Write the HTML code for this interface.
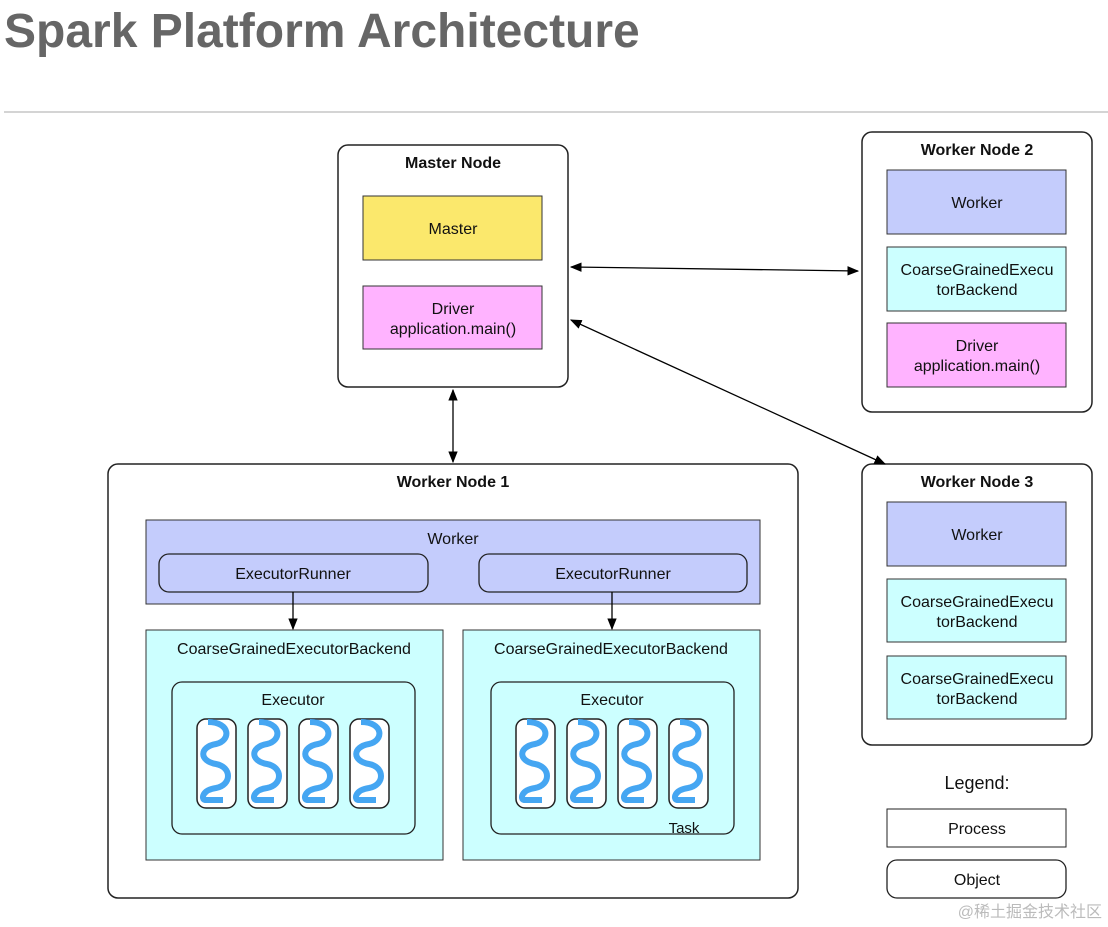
<!DOCTYPE html>
<html><head><meta charset="utf-8"><style>
html,body{margin:0;padding:0;background:#fff;}
svg{display:block;}
text{font-family:"Liberation Sans",Arial,sans-serif;fill:#111;}
</style></head><body>
<svg width="1108" height="927" viewBox="0 0 1108 927" xmlns="http://www.w3.org/2000/svg">
<defs>
<marker id="a" viewBox="0 0 10 10" refX="9" refY="5" markerWidth="9" markerHeight="9" orient="auto-start-reverse"><path d="M0,1 L10,5 L0,9 z" fill="#000"/></marker>
<g id="th">
<rect x="0" y="0" width="39" height="89" rx="9" fill="#fff" stroke="#222" stroke-width="1.5"/>
<path d="M11,3 C34,3 34,22 19,25 C2,28 2,42 19,45 C35,48 35,66 19,69 C5,71 4,80 8,81 L26,81" fill="none" stroke="#45a6f2" stroke-width="6"/>
</g>
</defs>
<text x="4" y="47" font-size="48" font-weight="bold" style="fill:#666">Spark Platform Architecture</text>
<line x1="4" y1="112" x2="1108" y2="112" stroke="#aaa" stroke-width="1"/>

<rect x="338" y="145" width="230" height="242" rx="10" fill="#fff" stroke="#222" stroke-width="1.5"/>
<text x="453" y="168" font-size="16" font-weight="bold" text-anchor="middle">Master Node</text>
<rect x="363" y="196" width="179" height="64" fill="#fbe86c" stroke="#333"/>
<text x="453" y="234" font-size="16" text-anchor="middle">Master</text>
<rect x="363" y="286" width="179" height="63" fill="#ffb3ff" stroke="#333"/>
<text x="453" y="314" font-size="16" text-anchor="middle">Driver</text>
<text x="453" y="334" font-size="16" text-anchor="middle">application.main()</text>

<rect x="862" y="132" width="230" height="280" rx="10" fill="#fff" stroke="#222" stroke-width="1.5"/>
<text x="977" y="155" font-size="16" font-weight="bold" text-anchor="middle">Worker Node 2</text>
<rect x="887" y="170" width="179" height="64" fill="#c4ccfc" stroke="#333"/>
<text x="977" y="208" font-size="16" text-anchor="middle">Worker</text>
<rect x="887" y="247" width="179" height="64" fill="#ccffff" stroke="#333"/>
<text x="977" y="275" font-size="16" text-anchor="middle">CoarseGrainedExecu</text>
<text x="977" y="295" font-size="16" text-anchor="middle">torBackend</text>
<rect x="887" y="323" width="179" height="64" fill="#ffb3ff" stroke="#333"/>
<text x="977" y="351" font-size="16" text-anchor="middle">Driver</text>
<text x="977" y="371" font-size="16" text-anchor="middle">application.main()</text>

<rect x="862" y="464" width="230" height="281" rx="10" fill="#fff" stroke="#222" stroke-width="1.5"/>
<text x="977" y="487" font-size="16" font-weight="bold" text-anchor="middle">Worker Node 3</text>
<rect x="887" y="502" width="179" height="64" fill="#c4ccfc" stroke="#333"/>
<text x="977" y="540" font-size="16" text-anchor="middle">Worker</text>
<rect x="887" y="579" width="179" height="63" fill="#ccffff" stroke="#333"/>
<text x="977" y="607" font-size="16" text-anchor="middle">CoarseGrainedExecu</text>
<text x="977" y="627" font-size="16" text-anchor="middle">torBackend</text>
<rect x="887" y="656" width="179" height="63" fill="#ccffff" stroke="#333"/>
<text x="977" y="684" font-size="16" text-anchor="middle">CoarseGrainedExecu</text>
<text x="977" y="704" font-size="16" text-anchor="middle">torBackend</text>

<rect x="108" y="464" width="690" height="434" rx="10" fill="#fff" stroke="#222" stroke-width="1.5"/>
<text x="453" y="487" font-size="16" font-weight="bold" text-anchor="middle">Worker Node 1</text>
<rect x="146" y="520" width="614" height="84" fill="#c4ccfc" stroke="#333"/>
<text x="453" y="544" font-size="16" text-anchor="middle">Worker</text>
<rect x="159" y="554" width="269" height="38" rx="10" fill="#c4ccfc" stroke="#222" stroke-width="1.3"/>
<text x="293" y="579" font-size="16" text-anchor="middle">ExecutorRunner</text>
<rect x="479" y="554" width="268" height="38" rx="10" fill="#c4ccfc" stroke="#222" stroke-width="1.3"/>
<text x="613" y="579" font-size="16" text-anchor="middle">ExecutorRunner</text>

<rect x="146" y="630" width="297" height="230" fill="#ccffff" stroke="#333"/>
<text x="294" y="654" font-size="16" text-anchor="middle">CoarseGrainedExecutorBackend</text>
<rect x="172" y="682" width="243" height="152" rx="10" fill="#ccffff" stroke="#222" stroke-width="1.3"/>
<text x="293" y="705" font-size="16" text-anchor="middle">Executor</text>
<use href="#th" x="197" y="719"/><use href="#th" x="248" y="719"/><use href="#th" x="299" y="719"/><use href="#th" x="350" y="719"/>

<rect x="463" y="630" width="297" height="230" fill="#ccffff" stroke="#333"/>
<text x="611" y="654" font-size="16" text-anchor="middle">CoarseGrainedExecutorBackend</text>
<rect x="491" y="682" width="243" height="152" rx="10" fill="#ccffff" stroke="#222" stroke-width="1.3"/>
<text x="612" y="705" font-size="16" text-anchor="middle">Executor</text>
<use href="#th" x="516" y="719"/><use href="#th" x="567" y="719"/><use href="#th" x="618" y="719"/><use href="#th" x="669" y="719"/>
<text x="684" y="833" font-size="15" text-anchor="middle">Task</text>

<text x="977" y="789" font-size="18" text-anchor="middle">Legend:</text>
<rect x="887" y="809" width="179" height="38" fill="#fff" stroke="#222"/>
<text x="977" y="834" font-size="16" text-anchor="middle">Process</text>
<rect x="887" y="860" width="179" height="38" rx="10" fill="#fff" stroke="#222" stroke-width="1.3"/>
<text x="977" y="885" font-size="16" text-anchor="middle">Object</text>

<g stroke="#000" stroke-width="1.3" fill="none">
<line x1="571" y1="267" x2="858" y2="271" marker-start="url(#a)" marker-end="url(#a)"/>
<line x1="571" y1="320" x2="885" y2="464" marker-start="url(#a)" marker-end="url(#a)"/>
<line x1="453" y1="390" x2="453" y2="462" marker-start="url(#a)" marker-end="url(#a)"/>
<line x1="293" y1="592" x2="293" y2="629" marker-end="url(#a)"/>
<line x1="612" y1="592" x2="612" y2="629" marker-end="url(#a)"/>
</g>
<text x="1102" y="917" font-size="16" text-anchor="end" style="fill:#bbb;font-family:'Liberation Sans','Noto Sans CJK SC',sans-serif">@稀土掘金技术社区</text>
</svg>
</body></html>
